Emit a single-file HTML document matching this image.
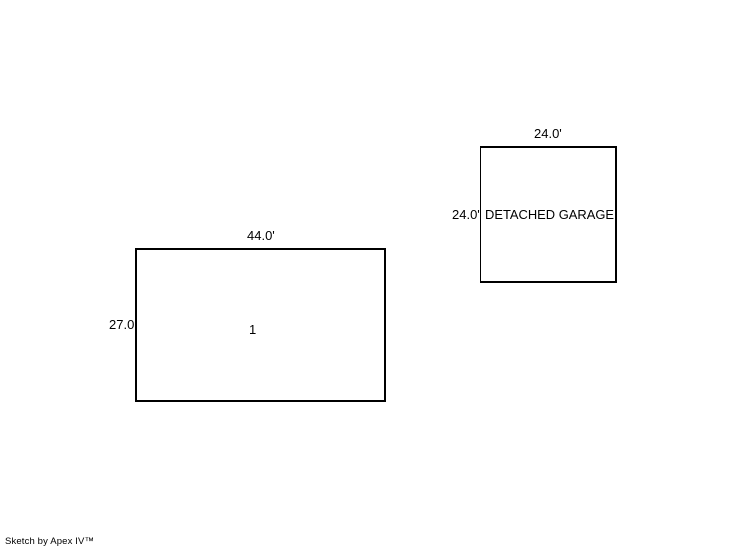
<!DOCTYPE html>
<html>
<head>
<meta charset="utf-8">
<style>
html,body{margin:0;padding:0;background:#fff;width:746px;height:547px;overflow:hidden}
svg{display:block}
text{font-family:"Liberation Sans",sans-serif;font-size:13px;fill:#000}
</style>
</head>
<body>
<svg width="746" height="547" viewBox="0 0 746 547" xmlns="http://www.w3.org/2000/svg">
<rect x="136" y="249" width="249" height="152" fill="none" stroke="#000" stroke-width="2"/>
<rect x="480" y="146" width="137" height="2" fill="#000"/>
<rect x="480" y="281" width="137" height="2" fill="#000"/>
<rect x="615" y="146" width="2" height="137" fill="#000"/>
<rect x="480" y="146" width="1" height="137" fill="#000"/>
<text x="534" y="138">24.0'</text>
<text x="452" y="219">24.0'</text>
<text x="485" y="219" textLength="129" lengthAdjust="spacingAndGlyphs">DETACHED GARAGE</text>
<text x="247" y="240">44.0'</text>
<text x="109" y="329">27.0</text>
<text x="249" y="334">1</text>
<text x="5" y="544" style="font-size:9.5px" textLength="89" lengthAdjust="spacing">Sketch by Apex IV™</text>
</svg>
</body>
</html>
